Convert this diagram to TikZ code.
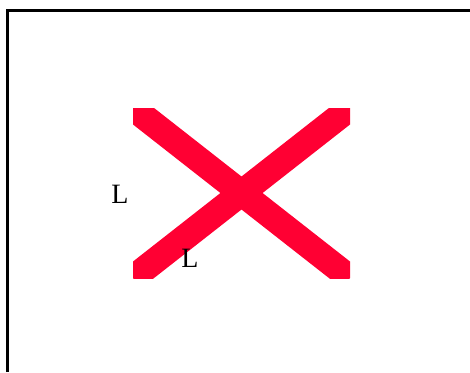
\documentclass[tikz,border=0pt]{standalone}
\usepackage{fontspec}
\setmainfont{Liberation Serif}
\usepackage{tikz}
\usetikzlibrary{positioning}
\definecolor{crossred}{HTML}{FF0033}
\begin{document}
\begin{tikzpicture}[x=0.75pt,y=-0.75pt]
  \tikzset{
    border/.style={black, line width=2.25pt},
    cross/.style={crossred, line width=19.5pt},
    lbl/.style={font=\fontsize{21}{25}\selectfont, inner sep=0pt}
  }
  \useasboundingbox (0,0) rectangle (470,372);

  % corners of the cross area
  \def\cxL{133}
  \def\cxR{350}
  \def\cyT{108}
  \def\cyB{278}

  % Frame (runs off the right and bottom edges)
  \draw[border] (7.5,372) -- (7.5,10.5) -- (470,10.5);

  % Red cross, clipped to its box
  \coordinate (tl) at (\cxL,\cyT);
  \coordinate (tr) at (\cxR,\cyT);
  \coordinate (bl) at (\cxL,\cyB);
  \coordinate (br) at (\cxR,\cyB);
  \begin{scope}
    \clip (tl) rectangle (br);
    \draw[cross] (tl) -- (br);
    \draw[cross] (bl) -- (tr);
  \end{scope}

  % Labels
  \node[lbl] (la) at (120,194.5) {L};
  \node[lbl] (lb) at (190,258.5) {L};
\end{tikzpicture}
\end{document}
